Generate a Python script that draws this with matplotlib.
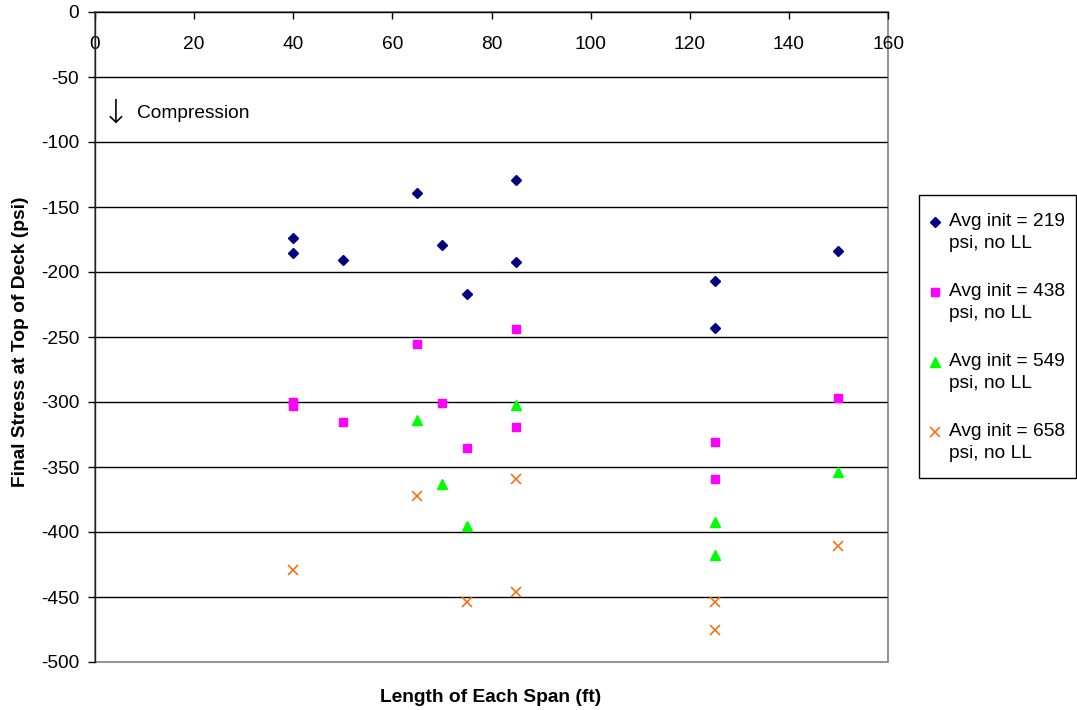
import matplotlib
matplotlib.use("Agg")
import matplotlib.pyplot as plt
from matplotlib.lines import Line2D
from matplotlib.patches import Rectangle

plt.rcParams['font.family'] = ['Liberation Sans', 'DejaVu Sans']
plt.rcParams['axes.unicode_minus'] = False

# Span lengths (ft) and final top-of-deck stresses (psi) per initial-stress case
span_219 = [40, 40, 50, 65, 70, 75, 85, 85, 125, 125, 150]
stress_219 = [-174, -185, -191, -139, -179, -217, -129, -192, -207, -243, -184]

span_438 = [40, 40, 50, 65, 70, 75, 85, 85, 125, 125, 150]
stress_438 = [-300, -303, -315, -255, -301, -335, -244, -319, -331, -359, -297]

span_549 = [65, 70, 75, 85, 125, 125, 150]
stress_549 = [-314, -363, -395, -302, -392, -418, -354]

span_658 = [40, 65, 75, 85, 85, 125, 125, 150]
stress_658 = [-429, -372, -454, -359, -446, -454, -475, -411]

labels = ["Avg init = 219\npsi, no LL", "Avg init = 438\npsi, no LL",
          "Avg init = 549\npsi, no LL", "Avg init = 658\npsi, no LL"]

x_ticks = [0, 20, 40, 60, 80, 100, 120, 140, 160]
y_ticks = [0, -50, -100, -150, -200, -250, -300, -350, -400, -450, -500]

FS = 13.8
W, H = 1077, 710
fig = plt.figure(figsize=(W / 100, H / 100), dpi=100)
ax = fig.add_axes([95 / W, 1 - 662 / H, (888 - 95) / W, (662 - 12) / H])

styles = [
    dict(marker='D', ms=4.8, color='#000080'),
    dict(marker='s', ms=6.3, color='#FF00FF'),
    dict(marker='^', ms=6.5, color='#00FF00'),
    dict(marker='x', ms=6.5, mew=1.1, color='#FF6600'),
]
series = [(span_219, stress_219), (span_438, stress_438),
          (span_549, stress_549), (span_658, stress_658)]

for (xs, ys), st, lab in zip(series, styles, labels):
    ax.plot(xs, ys, ls='none', label=lab, zorder=3, clip_on=False, **st)

ax.set_xlim(0, 160)
ax.set_ylim(-500, 0)
ax.set_xticks(x_ticks)
ax.set_yticks(y_ticks)

# plot-area frame (grey) and interior gridlines (black)
ax.add_patch(Rectangle((0, 0), 1, 1, transform=ax.transAxes, fill=False,
                       edgecolor='#808080', lw=1.2, zorder=1, clip_on=False))
for v in y_ticks[1:-1]:
    ax.axhline(v, color='black', lw=1, zorder=1)

for s in ['top', 'right']:
    ax.spines[s].set_visible(False)
ax.spines['bottom'].set_position(('data', 0))
ax.spines['bottom'].set_linewidth(1)
ax.spines['bottom'].set_zorder(2)
ax.spines['left'].set_linewidth(1)
ax.spines['left'].set_color('#222222')

ax.tick_params(axis='x', direction='out', length=5, width=1, pad=12, labelsize=FS)
ax.tick_params(axis='y', direction='out', length=5, width=1, pad=6.5, labelsize=FS)

fig.text(491 / W, 1 - 697 / H, "Length of Each Span (ft)", ha='center', va='center',
         fontsize=FS, fontweight='bold')
fig.text(21 / W, 1 - 342 / H, "Final Stress at Top of Deck (psi)", ha='center', va='center',
         rotation=90, fontsize=FS, fontweight='bold')

fig.text(115.5 / W, 1 - 113 / H, "\u2193", fontsize=24, ha='center', va='center',
         family='DejaVu Sans', fontweight='light')
fig.text(137 / W, 1 - 113 / H, "Compression", fontsize=FS, ha='left', va='center')

# legend box
fig.add_artist(Rectangle((919 / W, 1 - 478 / H), (1076 - 919) / W, (478 - 195) / H,
                         transform=fig.transFigure, fill=False, edgecolor='black', lw=1))
for i, (lab, st) in enumerate(zip(labels, styles)):
    y1 = 222 + 70 * i
    fig.add_artist(Line2D([935 / W], [1 - y1 / H], ls='none',
                          transform=fig.transFigure, **st))
    first, second = lab.split("\n")
    fig.text(949 / W, 1 - y1 / H, first, fontsize=FS, ha='left', va='center')
    fig.text(949 / W, 1 - (y1 + 21.7) / H, second, fontsize=FS, ha='left', va='center')

fig.savefig("out.png", dpi=100)
